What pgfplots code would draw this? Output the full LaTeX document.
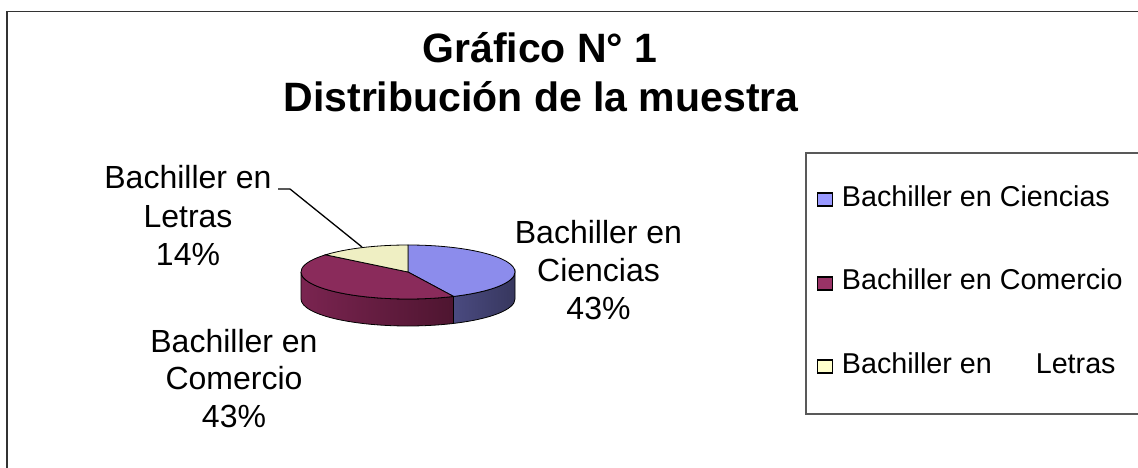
\documentclass[border=0pt]{standalone}
\usepackage{fontspec}
\setmainfont{Liberation Sans}
\usepackage{pgfplots}
\usepackage{pgfplotstable}
\pgfplotsset{compat=1.18}
\usetikzlibrary{calc}

\definecolor{cienTop}{HTML}{8C8CEC}
\definecolor{cienSideL}{HTML}{4A4A80}
\definecolor{cienSideR}{HTML}{37375E}
\definecolor{comTop}{HTML}{8A2B5B}
\definecolor{comSideL}{HTML}{7A2450}
\definecolor{comSideM}{HTML}{8E3060}
\definecolor{comSideR}{HTML}{4E1530}
\definecolor{letTop}{HTML}{EFEFC3}
\definecolor{legCien}{HTML}{9999FF}
\definecolor{legCom}{HTML}{993366}
\definecolor{legLet}{HTML}{FFFFCC}

\pgfplotstableread{
name value
Ciencias 43
Comercio 43
Letras 14
}\piedata

\begin{document}
\begin{tikzpicture}
\pgfplotstablegetelem{0}{value}\of\piedata \global\let\va\pgfplotsretval
\pgfplotstablegetelem{1}{value}\of\piedata \global\let\vb\pgfplotsretval
\pgfplotstablegetelem{2}{value}\of\piedata \global\let\vc\pgfplotsretval
\pgfmathsetmacro\tot{\va+\vb+\vc}
\pgfmathsetmacro\aA{90}
\pgfmathsetmacro\aB{90-360*\va/\tot}
\pgfmathsetmacro\aC{\aB-360*\vb/\tot}
\pgfmathsetmacro\aD{\aC-360*\vc/\tot}
\xdef\aA{\aA}\xdef\aB{\aB}\xdef\aC{\aC}\xdef\aD{\aD}
\begin{axis}[
  at={(0,0)}, anchor=south west,
  scale only axis, width=1138pt, height=468pt,
  xmin=0, xmax=1138, ymin=0, ymax=468,
  hide axis, clip=false]
  % outer frame
  \draw[black!80, line width=1.3pt] (7,-30) rectangle (1170,456.3);
  % title
  \node[anchor=base, font=\fontsize{41}{49}\selectfont\bfseries] at (540,405) {Gráfico N° 1};
  \node[anchor=base, font=\fontsize{41}{49}\selectfont\bfseries] at (541,356) {Distribución de la muestra};
  % pie
  \coordinate (C) at (408,196);
  % sides
  \shade[left color=cienSideL, right color=cienSideR, draw=black, line width=0.8pt]
    ($(C)+(\aB:107pt and 27pt)$) arc[start angle=\aB, end angle=0, x radius=107pt, y radius=27pt]
    -- ++(0,-27pt) arc[start angle=0, end angle=\aB, x radius=107pt, y radius=27pt] -- cycle;
  \shade[left color=comSideL, middle color=comSideM, right color=comSideR, draw=black, line width=0.8pt]
    ($(C)+(-180:107pt and 27pt)$) arc[start angle=-180, end angle=\aB, x radius=107pt, y radius=27pt]
    -- ++(0,-27pt) arc[start angle=\aB, end angle=-180, x radius=107pt, y radius=27pt] -- cycle;
  % tops
  \filldraw[fill=cienTop, draw=black, line width=0.8pt]
    (C) -- ($(C)+(\aA:107pt and 27pt)$) arc[start angle=\aA, end angle=\aB, x radius=107pt, y radius=27pt] -- cycle;
  \filldraw[fill=comTop, draw=black, line width=0.8pt]
    (C) -- ($(C)+(\aB:107pt and 27pt)$) arc[start angle=\aB, end angle=\aC, x radius=107pt, y radius=27pt] -- cycle;
  \filldraw[fill=letTop, draw=black, line width=0.8pt]
    (C) -- ($(C)+(\aC:107pt and 27pt)$) arc[start angle=\aC, end angle=\aD, x radius=107pt, y radius=27pt] -- cycle;
  % leader line
  \draw[black, line width=1.3pt] (278,279) -- (290,279) -- (362,221);
  % data labels
  \begin{scope}[every node/.style={anchor=base, font=\fontsize{32}{38}\selectfont, inner sep=0pt}]
    \node at (188,279) {Bachiller en};
    \node at (188,240) {Letras};
    \node at (188,202) {14\%};
    \node at (234,115) {Bachiller en};
    \node at (234,78) {Comercio};
    \node at (234,40) {43\%};
    \node at (598.5,224) {Bachiller en};
    \node at (598.5,186) {Ciencias};
    \node at (598.5,148) {43\%};
  \end{scope}
  % legend
  \draw[black!65, line width=1.5pt] (806,54) rectangle (1170,315);
  \draw[black, line width=1.8pt, fill=legCien] (817.5,262) rectangle (832.5,275);
  \draw[black, line width=1.8pt, fill=legCom] (817.5,178) rectangle (832.5,191);
  \draw[black, line width=1.8pt, fill=legLet] (817.5,95) rectangle (832.5,108);
  \begin{scope}[every node/.style={anchor=base west, font=\fontsize{28.7}{34}\selectfont, inner sep=0pt}]
    \node at (841.7,261.3) {Bachiller en Ciencias};
    \node at (841.7,178) {Bachiller en Comercio};
    \node at (841.7,94) {Bachiller en\hspace*{44pt}Letras};
  \end{scope}
\end{axis}
\pgfresetboundingbox
\useasboundingbox (0,0) rectangle (1138pt,468pt);
\end{tikzpicture}
\end{document}
